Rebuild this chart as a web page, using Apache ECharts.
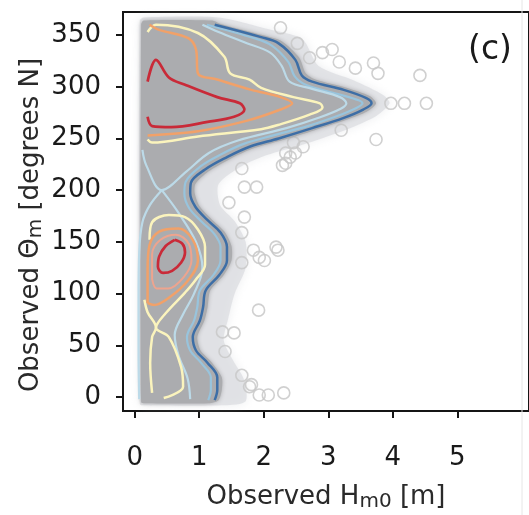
<!DOCTYPE html>
<html>
<head>
<meta charset="utf-8">
<script src="https://cdn.jsdelivr.net/npm/echarts@6/dist/echarts.min.js"></script>
<style>
  html, body { margin: 0; padding: 0; background: #ffffff; }
  #chart { width: 529px; height: 515px; }
</style>
</head>
<body>
<div id="chart"></div>
<script>
// Wave height (Hm0, m) vs mean wave direction (degrees N): dense cloud, density contours, outliers
const xTicks = [0, 1, 2, 3, 4, 5];
const yTicks = [0, 50, 100, 150, 200, 250, 300, 350];

// Outline of the dense point cloud [Hm0, theta]
const denseCloud = [[0.10,-5],[0.10,360],[0.14,364],[1.20,364],[1.32,361],[1.98,350],[2.28,344],[2.55,328],[2.65,313],[2.80,307],[3.28,299],[3.64,291],[3.74,284],[3.60,276],[3.28,268],[2.79,258],[2.27,248],[1.82,240],[1.47,230],[1.14,218],[0.94,206],[0.93,197],[1.00,185],[1.19,172],[1.39,160],[1.50,146],[1.50,132],[1.38,118],[1.17,103],[1.13,87],[1.08,74],[0.97,58],[1.02,45],[1.20,33],[1.35,19],[1.35,7],[1.30,-3],[1.15,-6],[0.15,-6]];
// Sparse halo around the cloud
const sparseCloud = [[0.08,-7],[0.08,364],[0.14,367],[1.30,367],[2.05,356],[2.60,346],[2.85,320],[3.40,306],[3.85,292],[3.95,284],[3.75,272],[3.30,259],[2.60,244],[2.05,234],[1.65,223],[1.30,206],[1.32,186],[1.55,170],[1.72,150],[1.72,125],[1.55,100],[1.45,76],[1.38,55],[1.52,36],[1.70,16],[1.72,-4],[1.40,-8],[0.15,-8]];

// Density contour levels
const contourDarkBlue = [[1.24,360],[1.96,348],[2.23,342],[2.49,326],[2.59,311],[2.75,305],[3.24,297],[3.59,289],[3.67,284],[3.54,278],[3.24,270],[2.75,260],[2.23,250],[1.78,242],[1.43,232],[1.09,220],[0.87,207],[0.86,197],[0.94,184],[1.13,171],[1.33,159],[1.43,145],[1.43,132],[1.31,118],[1.10,103],[1.06,87],[1.01,74],[0.90,58],[0.95,45],[1.13,33],[1.28,19],[1.28,7],[1.24,-3]];
const contourMidBlue = [[1.12,360],[1.85,347],[2.12,340],[2.38,324],[2.48,310],[2.65,302],[3.15,293],[3.47,287],[3.53,284],[3.42,279],[3.15,272],[2.68,262],[2.15,253],[1.70,245],[1.35,235],[1.02,223],[0.79,208],[0.77,197],[0.84,183],[1.03,170],[1.23,158],[1.33,145],[1.33,132],[1.22,118],[1.01,103],[0.97,87],[0.92,74],[0.81,58],[0.86,45],[1.03,33],[1.18,19],[1.18,7],[1.14,-3]];
const contourPaleBlueUpper = [[0.12,239],[0.18,224],[0.42,200],[0.80,218],[1.15,236],[1.60,248],[2.35,260],[2.85,270],[3.20,279],[3.28,284],[3.18,290],[2.75,298],[2.40,305],[2.28,320],[2.10,333],[1.70,343],[1.30,353],[1.05,360]];
const contourPaleBlueRight = [[0.42,200],[0.68,178],[0.95,150],[1.05,125],[0.92,100],[0.75,80],[0.62,60],[0.68,40],[0.82,18],[0.86,-2]];
const contourPaleBlueLeft = [[0.42,200],[0.24,186],[0.12,169],[0.07,140],[0.06,95],[0.06,45],[0.07,-2]];
const contourYellowUpper = [[0.20,249],[0.27,246],[0.98,252],[1.96,259],[2.22,263],[2.71,273],[2.91,280],[2.87,284],[2.46,290],[1.96,299],[1.78,307],[1.48,313],[1.39,329],[0.98,352],[0.33,360],[0.20,353]];
const contourYellowMid = [[0.23,152],[0.27,169],[0.53,176],[0.78,174],[0.98,162],[1.09,145],[1.09,128],[0.94,113],[0.78,101],[0.48,81],[0.33,67],[0.53,58],[0.72,29],[0.75,10],[0.45,-1]];
const contourYellowLow = [[0.15,94],[0.20,82],[0.33,67],[0.27,58],[0.24,33],[0.27,4]];
const contourOrangeUpper = [[0.20,253],[0.98,257],[1.73,267],[2.26,278],[2.44,284],[2.26,290],[1.81,297],[1.28,307],[0.98,313],[0.95,336],[0.83,347],[0.38,355],[0.23,360]];
const contourOrangeLower = [[0.20,91],[0.20,123],[0.23,147],[0.38,160],[0.68,163],[0.90,152],[0.98,132],[0.83,113],[0.53,96],[0.30,89],[0.20,91]];
const contourSalmonLower = [[0.27,114],[0.27,138],[0.40,152],[0.64,157],[0.84,148],[0.88,132],[0.76,116],[0.52,105],[0.34,105],[0.27,114]];
const contourRedUpper = [[0.20,305],[0.33,326],[0.53,309],[0.78,302],[1.28,290],[1.63,284],[1.70,278],[1.54,271],[1.13,266],[0.57,261],[0.27,262],[0.20,271]];
const contourRedLower = [[0.62,152],[0.74,148],[0.78,140],[0.72,130],[0.58,122],[0.44,120],[0.36,126],[0.38,136],[0.48,146],[0.62,152]];

// Individual observations away from the dense cloud
const outliers = [[2.26,357],[2.52,342],[2.71,328],[2.91,333],[3.06,336],[3.17,324],[3.42,318],[3.70,323],[3.77,313],[4.42,311],[3.97,284],[4.18,284],[4.52,284],[3.74,249],[3.20,258],[2.46,246],[2.34,236],[2.61,242],[2.19,145],[1.89,203],[2.34,226],[2.49,236],[1.93,135],[1.84,142],[1.92,84],[1.93,2],[2.31,4],[1.78,10],[2.07,2],[1.70,203],[1.66,221],[2.29,224],[2.41,232],[2.22,142],[2.01,132],[1.66,159],[1.46,188],[1.70,174],[1.66,130],[1.36,63],[1.54,62],[1.66,21],[1.40,44],[1.81,12]];

const FONT = '"DejaVu Sans", "Liberation Sans", Arial, sans-serif';

function polygonSeries(points, fill, blur, z) {
  return {
    type: 'custom',
    coordinateSystem: 'cartesian2d',
    data: [0],
    z: z,
    silent: true,
    renderItem: function (params, api) {
      const pts = points.map(p => api.coord(p));
      return {
        type: 'polygon',
        shape: { points: pts, smooth: 0.25 },
        style: { fill: fill, shadowBlur: blur, shadowColor: fill }
      };
    }
  };
}

function contour(points, color, width, z) {
  return {
    type: 'line',
    data: points,
    showSymbol: false,
    smooth: 0.35,
    z: z,
    silent: true,
    lineStyle: { color: color, width: width },
    emphasis: { disabled: true }
  };
}

const chart = echarts.init(document.getElementById('chart'), null, { renderer: 'canvas' });

chart.setOption({
  animation: false,
  backgroundColor: '#ffffff',
  grid: {
    left: 123, top: 12, width: 417, height: 399,
    show: true, borderColor: '#151515', borderWidth: 2, backgroundColor: '#ffffff'
  },
  xAxis: {
    type: 'value', min: -0.181, max: 6.11,
    axisLine: { show: true, onZero: false, lineStyle: { color: '#151515', width: 2 } },
    axisTick: { show: true, customValues: xTicks, length: 7, lineStyle: { color: '#151515', width: 2 } },
    axisLabel: { customValues: xTicks, fontSize: 26, margin: 34, color: '#1a1a1a', fontFamily: FONT },
    splitLine: { show: false }
  },
  yAxis: {
    type: 'value', min: -13.5, max: 372.3,
    axisLine: { show: true, onZero: false, lineStyle: { color: '#151515', width: 2 } },
    axisTick: { show: true, customValues: yTicks, length: 7, lineStyle: { color: '#151515', width: 2 } },
    axisLabel: { customValues: yTicks, fontSize: 26, margin: 22, color: '#1a1a1a', fontFamily: FONT },
    splitLine: { show: false }
  },
  graphic: [
    { type: 'line', shape: { x1: 522, y1: 0, x2: 522, y2: 515 }, style: { stroke: '#e6e6e6', lineWidth: 1 }, z: 100 },
    {
      type: 'text', x: 490, y: 50, z: 100,
      style: { text: '(c)', fontSize: 33, fontFamily: FONT, fill: '#1a1a1a', align: 'center', verticalAlign: 'middle' }
    },
    {
      type: 'text', x: 326, y: 497, z: 100,
      style: {
        text: '{a|Observed H}{s|m0}{a| [m]}',
        align: 'center', verticalAlign: 'middle', fill: '#2a2a2a',
        rich: {
          a: { fontSize: 26, lineHeight: 30, fontFamily: FONT, fill: '#2a2a2a' },
          s: { fontSize: 20, lineHeight: 18, verticalAlign: 'bottom', fontFamily: FONT, fill: '#2a2a2a' }
        }
      }
    },
    {
      type: 'text', x: 31, y: 225, rotation: Math.PI / 2, z: 100,
      style: {
        text: '{a|Observed Θ}{s|m}{a| [degrees N]}',
        align: 'center', verticalAlign: 'middle', fill: '#2a2a2a',
        rich: {
          a: { fontSize: 26, lineHeight: 30, fontFamily: FONT, fill: '#2a2a2a' },
          s: { fontSize: 20, lineHeight: 18, verticalAlign: 'bottom', fontFamily: FONT, fill: '#2a2a2a' }
        }
      }
    }
  ],
  series: [
    polygonSeries(sparseCloud, 'rgba(218,220,224,0.7)', 10, 1),
    {
      type: 'scatter',
      data: outliers,
      symbol: 'circle',
      symbolSize: 12,
      z: 2,
      silent: true,
      itemStyle: { color: 'rgba(255,255,255,0)', borderColor: '#c8c8c8', borderWidth: 1.6, opacity: 0.85 }
    },
    polygonSeries(denseCloud, '#abacaf', 4, 3),
    contour(contourDarkBlue, '#3d6ea6', 2.5, 10),
    contour(contourMidBlue, '#98c4dd', 2.2, 9),
    contour(contourPaleBlueUpper, '#bcdae8', 2.2, 9),
    contour(contourPaleBlueRight, '#bcdae8', 2.2, 9),
    contour(contourPaleBlueLeft, '#bcdae8', 2.2, 9),
    contour(contourYellowUpper, '#fbf4bd', 2.5, 11),
    contour(contourYellowMid, '#fbf4bd', 2.5, 11),
    contour(contourYellowLow, '#fbf4bd', 2.5, 11),
    contour(contourOrangeUpper, '#f1a169', 2.5, 12),
    contour(contourOrangeLower, '#f1a169', 2.5, 12),
    contour(contourSalmonLower, '#eea48e', 2.0, 12),
    contour(contourRedUpper, '#c92a38', 2.7, 13),
    contour(contourRedLower, '#c92a38', 2.7, 13)
  ]
});
</script>
</body>
</html>
